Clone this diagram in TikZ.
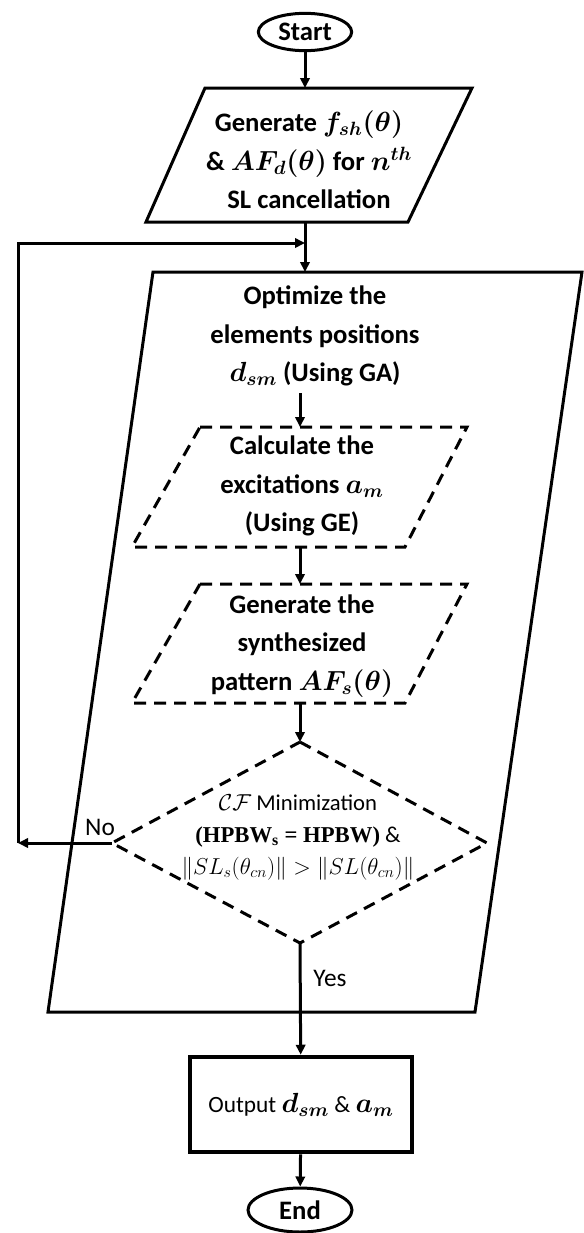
\documentclass[tikz,border=0pt]{standalone}
\usepackage{fontspec}
\setmainfont{Carlito}
\newfontfamily\tms{Liberation Serif}
\usetikzlibrary{arrows.meta,shapes.geometric}
\begin{document}
\begin{tikzpicture}[x=0.75pt,y=-0.75pt,
  ln/.style={line width=2.25pt, line join=miter},
  arr/.style={line width=2.25pt,-{Triangle[length=7.5pt,width=7pt]}},
  dsh/.style={line width=2.25pt, dash pattern=on 9pt off 6pt},
  txt/.style={font=\fontsize{20}{29}\selectfont\bfseries\boldmath, align=center, inner sep=0pt},
  dtxt/.style={font=\fontsize{17}{24}\selectfont, align=center, inner sep=0pt},
  lbl/.style={font=\fontsize{19}{20}\selectfont, inner sep=0pt},
  term/.style={draw, ellipse, line width=2.25pt, inner sep=0pt, font=\fontsize{20}{22}\selectfont\bfseries}
]
\useasboundingbox (0,0) rectangle (584,1233);

% Start
\node[term, minimum width=70pt, minimum height=28pt] (start) at (305,32) {Start};

% parallelogram 1
\coordinate (p1tl) at (205,88); \coordinate (p1tr) at (472,88);
\coordinate (p1br) at (408,222); \coordinate (p1bl) at (146,222);
\draw[ln] (p1tl) -- (p1tr) -- (p1br) -- (p1bl) -- cycle;
\coordinate (p1top) at (305,88);
\coordinate (p1bot) at (305,222);
\node[txt] (p1txt) at (309,160) {Generate $f_{sh}(\theta)$\\ \& $AF_d(\theta)$ for $n^{th}$\\ SL cancellation};

% big parallelogram
\coordinate (btl) at (153,272); \coordinate (btr) at (582,272);
\coordinate (bbr) at (475,1012); \coordinate (bbl) at (48,1012);
\draw[ln] (btl) -- (btr) -- (bbr) -- (bbl) -- cycle;
\coordinate (btop) at (305,272);
\node[txt] (gatxt) at (315,336) {Optimize the\\ elements positions\\ $d_{sm}$ (Using GA)};
\coordinate (gabot) at (300,393);

% dashed parallelogram 1
\coordinate (d1tl) at (200,427); \coordinate (d1tr) at (467,427);
\coordinate (d1br) at (405,547); \coordinate (d1bl) at (132,547);
\draw[dsh] (d1tl) -- (d1tr) -- (d1br) -- (d1bl) -- cycle;
\coordinate (d1top) at (300,427); \coordinate (d1bot) at (300,547);
\node[txt] (d1txt) at (302,486) {Calculate the\\ excitations $a_m$\\ (Using GE)};

% dashed parallelogram 2
\coordinate (d2tl) at (200,584); \coordinate (d2tr) at (467,584);
\coordinate (d2br) at (405,703); \coordinate (d2bl) at (132,703);
\draw[dsh] (d2tl) -- (d2tr) -- (d2br) -- (d2bl) -- cycle;
\coordinate (d2top) at (300,584); \coordinate (d2bot) at (300,703);
\node[txt] (d2txt) at (302,646) {Generate the\\ synthesized\\ pattern $AF_s(\theta)$};

% diamond
\coordinate (dmt) at (300,742); \coordinate (dmr) at (487,843);
\coordinate (dmb) at (300,943); \coordinate (dml) at (112,843);
\draw[dsh] (dmt) -- (dmr) -- (dmb) -- (dml) -- cycle;
\node[dtxt] (dmtxt) at (298,837) {$\mathcal{CF}$ Minimization\\ {\tms\bfseries (HPBW\textsubscript{s} = HPBW)} \&\\ $\|SL_s(\theta_{cn})\| > \|SL(\theta_{cn})\|$};

% output
\node[draw, line width=3.4pt, minimum width=166.5pt, minimum height=71.25pt, inner sep=0pt] (out) at (301,1104.5)
  {\fontsize{17.5}{20}\selectfont Output {\fontsize{21}{20}\selectfont\boldmath$d_{sm}$} \& {\fontsize{21}{20}\selectfont\boldmath$a_m$}};

% End
\node[term, minimum width=78pt, minimum height=33pt] (end) at (300,1210) {End};

% connectors
\draw[arr] (start) -- (p1top);
\draw[arr] (p1bot) -- (btop);
\draw[arr] (gabot) -- (d1top);
\draw[arr] (d1bot) -- (d2top);
\draw[arr] (d2bot) -- (dmt);
\draw[arr] (dmb) -- (out);
\draw[arr] (out) -- (end);
\coordinate (lc1) at (18,843);
\coordinate (lc2) at (18,243);
\coordinate (lc3) at (305,243);
\draw[arr] (dml) -- (lc1);
\draw[arr] (lc1) -- (lc2) -- (lc3);

\node[lbl] (no) at (100,827) {No};
\node[lbl] (yes) at (330,978) {Yes};
\end{tikzpicture}
\end{document}
